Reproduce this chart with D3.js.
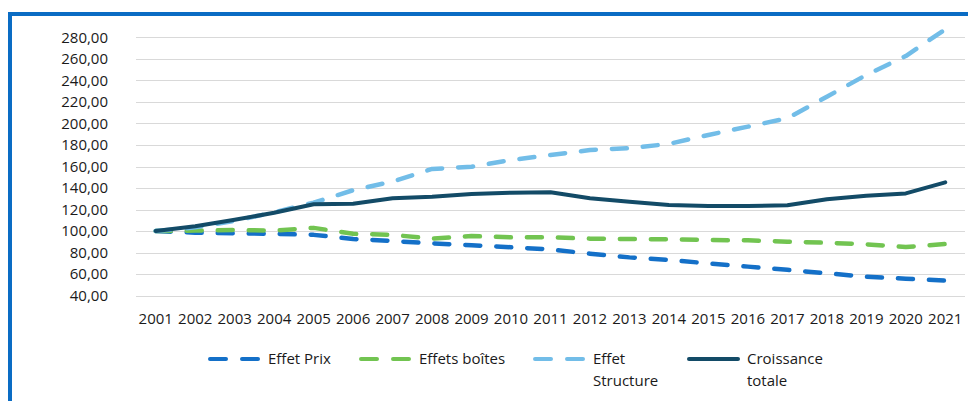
<!DOCTYPE html>
<html>
<head>
<meta charset="utf-8">
<script src="https://cdn.jsdelivr.net/npm/d3@7"></script>
<style>
  html, body { margin: 0; padding: 0; background: #fff; }
  svg { display: block; font-family: 'Open Sans', sans-serif; }
</style>
</head>
<body>
<article></article>
<script>
// Data
const years = d3.range(2001, 2022).map(String);
const yTicks = [40, 60, 80, 100, 120, 140, 160, 180, 200, 220, 240, 260, 280];

const effetPrix = [100, 98.5, 98, 97.5, 96.5, 92.7, 90.8, 88.6, 86.8, 85, 83, 79, 75.6, 73.2, 70, 67, 64, 60.8, 57.6, 55.8, 54];
const effetsBoites = [100, 100.5, 101, 100.5, 103, 97.5, 96.5, 93, 95.4, 94.2, 94.2, 93, 92.7, 92.4, 91.7, 91.4, 90.2, 89.2, 87.7, 85.2, 88];
const effetStructure = [100, 103.5, 109.5, 117.5, 126.4, 138, 146, 157.7, 159.8, 166, 170.7, 175.3, 177, 181, 189.3, 197, 204.8, 224.8, 245, 262.6, 287.4];
const croissanceTotale = [100, 104.5, 110.5, 117, 125, 125.5, 130.5, 132, 134.5, 135.7, 136, 130.5, 127.3, 124.2, 123.3, 123.3, 124, 129.5, 132.9, 135, 145.3];

const seriesNames = ['Effet Prix', 'Effets boîtes', 'Effet Structure', 'Croissance totale'];
const legendLines = [['Effet Prix'], ['Effets boîtes'], ['Effet', 'Structure'], ['Croissance', 'totale']];

(() => {
  window.addEventListener('DOMContentLoaded', () => {
    // Constants
    const WIDTH = 968;
    const HEIGHT = 401;
    const PLOT = { left: 136, right: 965, top: 37.3, bottom: 295.7 };
    const TEXT = '#1a1a1a';

    const colors = ['#1470C8', '#72C451', '#72BDE8', '#134B67'];
    const dashed = [true, true, true, false];
    const values = [effetPrix, effetsBoites, effetStructure, croissanceTotale];

    const fr = d3.formatLocale({ decimal: ',', thousands: ' ', grouping: [3], currency: ['', ' €'] });
    const fmt = fr.format('.2f');

    // Main SVG
    const svg = d3
      .select('article')
      .append('svg')
      .attr('width', WIDTH)
      .attr('height', HEIGHT)
      .attr('viewBox', `0 0 ${WIDTH} ${HEIGHT}`);

    // frame
    svg
      .append('rect')
      .attr('x', 10)
      .attr('y', 14)
      .attr('width', WIDTH + 20)
      .attr('height', HEIGHT + 20)
      .attr('fill', 'none')
      .attr('stroke', '#0A6CC4')
      .attr('stroke-width', 4);

    // Scales
    const x = d3.scaleBand().domain(years).range([PLOT.left, PLOT.right]);
    const y = d3.scaleLinear().domain([40, 280]).range([PLOT.bottom, PLOT.top]);
    const cx = (d) => x(d) + x.bandwidth() / 2;

    // gridlines
    svg
      .append('g')
      .selectAll('line')
      .data(yTicks)
      .join('line')
      .attr('x1', PLOT.left)
      .attr('x2', PLOT.right)
      .attr('y1', (d) => Math.round(y(d)) + 0.5)
      .attr('y2', (d) => Math.round(y(d)) + 0.5)
      .attr('stroke', '#D9D9D9')
      .attr('stroke-width', 1);

    // y axis
    svg
      .append('g')
      .attr('transform', `translate(${PLOT.left}, 0)`)
      .call(d3.axisLeft(y).tickValues(yTicks).tickFormat(fmt).tickSize(0).tickPadding(28))
      .call((g) => g.select('.domain').remove())
      .call((g) =>
        g
          .selectAll('text')
          .attr('fill', TEXT)
          .style('font-family', "'Open Sans', sans-serif")
          .style('font-size', '15px')
      );

    // x axis
    svg
      .append('g')
      .attr('transform', `translate(0, ${PLOT.bottom})`)
      .call(d3.axisBottom(x).tickSize(0).tickPadding(18))
      .call((g) => g.select('.domain').remove())
      .call((g) =>
        g
          .selectAll('text')
          .attr('fill', TEXT)
          .style('font-family', "'Open Sans', sans-serif")
          .style('font-size', '15px')
      );

    // lines
    const line = d3
      .line()
      .x((d, i) => cx(years[i]))
      .y((d) => y(d));

    values.forEach((vals, k) => {
      svg
        .append('path')
        .datum(vals)
        .attr('fill', 'none')
        .attr('stroke', colors[k])
        .attr('stroke-width', dashed[k] ? 4.5 : 4)
        .attr('stroke-linecap', 'round')
        .attr('stroke-linejoin', 'round')
        .attr('stroke-dasharray', dashed[k] ? '15,16' : null)
        .attr('d', line)
        .append('title')
        .text(seriesNames[k]);
    });

    // Legend
    const legendX = [208, 359, 533, 687];
    const legendY = 359;
    const legend = svg
      .append('g')
      .selectAll('g')
      .data(legendLines)
      .join('g')
      .attr('transform', (d, i) => `translate(${legendX[i]}, ${legendY})`);

    legend
      .append('line')
      .attr('x1', 2)
      .attr('x2', 51)
      .attr('y1', 0)
      .attr('y2', 0)
      .attr('stroke', (d, i) => colors[i])
      .attr('stroke-width', 4)
      .attr('stroke-linecap', 'round')
      .attr('stroke-dasharray', (d, i) => (dashed[i] ? '16,16' : null));

    legend
      .append('text')
      .attr('x', 60)
      .attr('y', 0)
      .attr('fill', TEXT)
      .style('font-size', '15px')
      .selectAll('tspan')
      .data((d) => d)
      .join('tspan')
      .attr('x', 60)
      .attr('dy', (d, i) => (i === 0 ? '0.35em' : '22px'))
      .text((d) => d);
  });
})();
</script>
</body>
</html>
